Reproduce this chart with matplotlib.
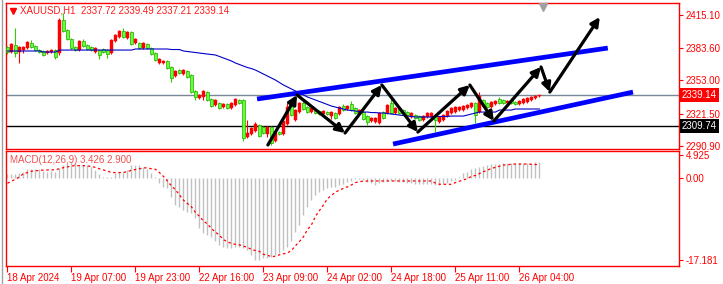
import matplotlib
matplotlib.use('Agg')
import matplotlib.pyplot as plt
import matplotlib.transforms as mtransforms
from matplotlib.lines import Line2D
import numpy as np

# ---------------- data ----------------
opens = [
2384.7, 2379.9, 2386.6, 2379.9, 2381.8, 2383.7, 2388.5, 2385.6, 2381.8, 2380.9,
2379.0, 2379.9, 2381.8, 2379.0, 2410.3, 2400.8, 2392.3, 2384.7, 2381.8, 2390.4,
2386.6, 2384.7, 2379.9, 2381.8, 2382.8, 2381.8, 2379.0, 2390.4, 2394.2, 2399.9,
2393.2, 2398.9, 2388.5, 2388.5, 2383.7, 2387.5, 2383.7, 2379.0, 2369.5, 2369.5,
2371.4, 2365.7, 2357.1, 2362.8, 2359.0, 2361.9, 2358.1, 2342.9, 2336.2, 2337.2,
2341.9, 2335.3, 2329.6, 2331.5, 2327.6, 2330.5, 2326.7, 2329.6, 2334.3, 2334.3,
2299.2, 2302.0, 2304.9, 2310.6, 2308.7, 2302.0, 2308.7, 2295.4, 2303.9, 2302.0,
2311.5, 2330.5, 2315.6, 2322.9, 2331.5, 2327.6, 2322.9, 2324.8, 2323.9, 2321.0,
2322.9, 2319.1, 2322.0, 2321.0, 2328.6, 2325.8, 2330.5, 2326.7, 2322.0, 2322.9,
2319.1, 2314.4, 2313.4, 2312.5, 2322.9, 2322.0, 2331.5, 2322.0, 2326.7, 2324.8,
2322.9, 2318.2, 2320.1, 2319.1, 2315.6, 2318.2, 2318.2, 2320.1, 2313.4, 2315.6,
2319.1, 2322.0, 2322.9, 2324.8, 2324.8, 2326.7, 2327.6, 2331.5, 2322.9, 2334.3,
2331.5, 2327.6, 2330.5, 2335.3, 2334.3, 2331.5, 2334.3, 2332.4, 2330.5, 2331.5,
2332.4, 2334.3, 2336.2, 2337.72]

closes = [
2379.9, 2387.5, 2379.0, 2384.7, 2384.7, 2389.4, 2384.7, 2381.8, 2379.9, 2377.1,
2380.9, 2381.8, 2375.2, 2410.3, 2399.9, 2392.3, 2383.7, 2381.8, 2390.4, 2385.6,
2382.8, 2381.8, 2383.7, 2377.1, 2379.9, 2378.0, 2391.3, 2396.1, 2399.9, 2394.2,
2398.9, 2387.5, 2392.3, 2383.7, 2388.5, 2383.7, 2378.0, 2372.3, 2373.3, 2371.4,
2364.7, 2355.2, 2361.9, 2360.0, 2362.8, 2356.2, 2341.9, 2337.2, 2339.1, 2342.9,
2334.3, 2328.6, 2334.3, 2326.7, 2330.5, 2326.7, 2331.5, 2335.3, 2331.5, 2298.2,
2303.0, 2307.7, 2311.5, 2300.1, 2303.0, 2308.7, 2293.5, 2303.0, 2302.0, 2314.4,
2327.6, 2320.1, 2324.8, 2331.5, 2325.8, 2322.9, 2326.7, 2322.0, 2321.0, 2323.9,
2321.0, 2322.9, 2317.2, 2327.6, 2324.8, 2328.6, 2324.8, 2322.0, 2324.8, 2316.3,
2313.4, 2317.2, 2317.2, 2322.0, 2317.2, 2329.6, 2322.0, 2326.7, 2322.0, 2322.0,
2320.1, 2322.0, 2317.2, 2315.6, 2319.1, 2322.0, 2322.0, 2315.6, 2318.2, 2320.1,
2323.9, 2326.7, 2327.6, 2327.6, 2328.6, 2329.6, 2331.5, 2320.1, 2338.1, 2328.6,
2327.6, 2332.4, 2333.4, 2331.5, 2331.5, 2333.4, 2331.5, 2330.5, 2333.4, 2335.3,
2336.2, 2337.2, 2338.1, 2339.14]

highs = [
2385.6, 2388.5, 2402.7, 2385.6, 2385.6, 2390.4, 2391.3, 2386.6, 2382.8, 2381.8,
2381.8, 2382.8, 2382.8, 2412.2, 2417.0, 2401.8, 2393.2, 2385.6, 2391.3, 2392.3,
2387.5, 2385.6, 2384.7, 2382.8, 2383.7, 2382.8, 2392.3, 2397.0, 2400.8, 2402.7,
2399.9, 2399.9, 2393.2, 2389.4, 2389.4, 2388.5, 2384.7, 2379.9, 2374.3, 2372.3,
2372.3, 2366.6, 2362.8, 2363.8, 2363.8, 2362.8, 2359.0, 2343.8, 2340.0, 2343.8,
2342.9, 2336.2, 2335.3, 2332.4, 2331.5, 2331.5, 2332.4, 2336.2, 2335.3, 2335.3,
2315.6, 2308.7, 2313.4, 2311.5, 2309.6, 2309.6, 2309.6, 2304.0, 2304.9, 2315.6,
2331.5, 2331.5, 2325.8, 2332.4, 2333.4, 2328.6, 2327.6, 2325.8, 2324.8, 2324.8,
2323.9, 2323.9, 2322.9, 2328.6, 2330.5, 2329.6, 2333.4, 2327.6, 2325.8, 2323.9,
2320.1, 2318.2, 2318.2, 2322.9, 2323.9, 2330.5, 2338.1, 2327.6, 2327.6, 2325.8,
2323.9, 2322.9, 2321.0, 2320.1, 2320.1, 2322.9, 2322.9, 2321.0, 2319.1, 2321.0,
2324.8, 2327.6, 2328.6, 2328.6, 2329.6, 2330.5, 2332.4, 2332.4, 2341.9, 2335.3,
2332.4, 2333.4, 2334.3, 2337.2, 2335.3, 2334.3, 2336.2, 2333.4, 2334.3, 2336.2,
2337.2, 2338.1, 2339.1, 2339.49]

lows = [
2378.5, 2379.0, 2375.2, 2369.5, 2379.0, 2382.8, 2384.0, 2381.0, 2379.0, 2376.2,
2378.0, 2379.0, 2373.3, 2377.1, 2398.9, 2391.3, 2382.8, 2380.9, 2380.9, 2384.7,
2381.8, 2380.9, 2379.0, 2373.3, 2379.0, 2374.3, 2378.0, 2389.4, 2393.2, 2393.2,
2392.3, 2386.6, 2387.5, 2382.8, 2382.8, 2382.8, 2377.1, 2371.4, 2368.5, 2368.5,
2363.8, 2351.4, 2356.2, 2359.0, 2358.1, 2355.2, 2341.0, 2334.3, 2335.3, 2334.0,
2333.4, 2327.6, 2328.6, 2325.8, 2326.7, 2325.8, 2325.8, 2328.6, 2330.5, 2295.4,
2298.2, 2301.1, 2303.9, 2299.2, 2302.0, 2299.2, 2291.6, 2294.4, 2301.1, 2301.1,
2310.6, 2319.1, 2314.4, 2322.0, 2324.8, 2322.0, 2322.0, 2321.0, 2320.1, 2320.1,
2320.1, 2316.3, 2316.3, 2320.1, 2323.9, 2324.8, 2323.9, 2321.0, 2321.0, 2315.6,
2310.6, 2313.4, 2312.5, 2311.5, 2316.3, 2321.0, 2321.0, 2321.0, 2321.0, 2321.0,
2319.1, 2317.2, 2316.3, 2314.4, 2314.4, 2317.2, 2317.2, 2303.9, 2312.5, 2314.4,
2318.2, 2321.0, 2322.0, 2323.9, 2323.9, 2325.8, 2326.7, 2312.5, 2322.0, 2327.6,
2326.7, 2326.7, 2329.6, 2330.5, 2330.5, 2330.5, 2330.5, 2329.6, 2329.6, 2330.5,
2331.5, 2333.4, 2335.3, 2337.21]

ma_values = [
2380.9, 2380.9, 2380.9, 2380.9, 2380.9, 2380.9, 2380.9, 2380.9, 2380.9, 2379.9,
2379.9, 2379.9, 2379.9, 2381.8, 2381.8, 2381.8, 2381.8, 2381.8, 2381.8, 2381.8,
2381.8, 2381.8, 2381.8, 2381.8, 2381.8, 2381.8, 2381.8, 2381.8, 2381.8, 2381.8,
2381.8, 2381.8, 2382.8, 2382.8, 2382.8, 2382.8, 2382.8, 2382.8, 2382.8, 2382.8,
2382.8, 2382.3, 2382.3, 2382.3, 2380.9, 2380.4, 2379.9, 2379.5, 2379.0, 2378.5,
2378.0, 2377.6, 2377.1, 2375.7, 2374.2, 2372.8, 2371.4, 2369.5, 2368.0, 2366.6,
2365.2, 2364.2, 2362.8, 2360.9, 2359.0, 2357.1, 2355.2, 2353.3, 2351.0, 2348.6,
2346.7, 2344.8, 2342.9, 2341.0, 2339.1, 2337.2, 2335.8, 2334.3, 2332.9, 2331.5,
2330.0, 2328.6, 2327.6, 2326.7, 2325.8, 2324.8, 2324.3, 2323.9, 2323.4, 2322.9,
2322.9, 2322.4, 2322.4, 2322.0, 2322.0, 2321.5, 2321.0, 2320.6, 2320.1, 2319.6,
2319.1, 2318.7, 2318.2, 2318.2, 2318.2, 2318.2, 2318.2, 2318.7, 2318.7, 2318.7,
2318.7, 2319.1, 2319.1, 2319.1, 2319.1, 2320.1, 2321.0, 2322.0, 2322.9, 2322.9,
2322.9, 2322.9, 2322.9, 2324.8, 2324.8, 2324.8, 2324.8, 2325.8, 2325.8, 2325.8,
2325.8, 2325.8, 2325.8, 2325.8]

macd_main = [
0.84, 0.84, 0.98, 1.12, 1.40, 1.89, 1.89, 1.89, 1.89, 1.54,
1.40, 1.54, 1.40, 2.11, 2.81, 3.16, 3.51, 3.16, 2.81, 2.81,
2.81, 2.46, 1.75, 0.84, 0.35, 0.35, 0.35, 1.05, 1.40, 1.40,
1.75, 2.81, 2.81, 2.81, 2.46, 1.96, 1.05, 0.35, -1.05, -1.75,
-2.10, -3.86, -5.60, -6.00, -6.70, -7.00, -7.40, -8.40, -10.50, -11.60,
-11.90, -12.30, -13.30, -14.00, -14.40, -14.70, -14.70, -14.40, -14.40, -14.70,
-15.10, -16.10, -17.18, -17.18, -16.80, -16.80, -16.50, -16.10, -15.80, -15.10,
-14.40, -13.30, -11.20, -9.80, -7.70, -6.00, -4.60, -3.50, -2.80, -2.50,
-2.10, -1.75, -1.75, -1.50, -1.20, -0.70, -0.56, -0.20, -0.20, -0.40,
-0.80, -1.00, -1.40, -1.00, -0.80, -0.60, -0.50, -0.60, -0.70, -0.80,
-1.00, -1.00, -1.10, -1.20, -1.30, -1.20, -1.20, -1.40, -1.40, -1.30,
-1.00, -0.60, -0.30, 0.35, 1.05, 1.40, 1.96, 2.25, 2.46, 2.67,
2.81, 2.95, 3.00, 3.08, 3.15, 3.15, 3.15, 3.15, 3.20, 3.20,
3.22, 3.29, 3.36, 3.426]

macd_signal = [
-1.05, -0.60, -0.20, 0.30, 1.00, 1.20, 1.50, 1.60, 1.65, 1.75,
1.75, 1.75, 1.85, 2.00, 2.25, 2.40, 2.60, 2.67, 2.67, 2.67,
2.60, 2.50, 2.30, 2.00, 1.75, 1.50, 1.25, 1.20, 1.20, 1.25,
1.40, 1.70, 1.85, 2.00, 2.20, 2.20, 2.00, 1.90, 1.20, 0.40,
-0.60, -1.60, -2.40, -3.50, -4.60, -5.30, -6.00, -7.20, -8.00, -9.00,
-9.60, -10.60, -11.30, -12.00, -12.90, -13.40, -13.70, -13.90, -14.00, -14.30,
-14.50, -15.00, -15.20, -15.40, -16.00, -16.20, -16.50, -16.40, -16.10, -15.90,
-15.70, -15.20, -14.20, -13.30, -12.30, -10.80, -9.80, -8.00, -6.80, -5.60,
-4.30, -3.60, -2.90, -2.50, -2.10, -1.80, -1.40, -0.90, -0.70, -0.60,
-0.56, -0.56, -0.56, -0.56, -0.56, -0.56, -0.56, -0.56, -0.56, -0.56,
-0.56, -0.56, -0.56, -0.56, -0.56, -0.56, -0.56, -1.00, -1.26, -1.26,
-1.26, -1.26, -0.90, -0.60, -0.35, -0.05, 0.40, 0.60, 1.00, 1.40,
1.70, 2.10, 2.30, 2.55, 2.80, 2.85, 2.95, 3.00, 3.00, 3.00,
3.00, 2.95, 2.90, 2.90]

time_labels = ["18 Apr 2024", "19 Apr 07:00", "19 Apr 23:00", "22 Apr 16:00",
               "23 Apr 09:00", "24 Apr 02:00", "24 Apr 18:00", "25 Apr 11:00",
               "26 Apr 04:00"]
time_label_bars = [0, 16, 32, 48, 64, 80, 96, 112, 128]

price_ticks = [2415.10, 2383.60, 2353.00, 2321.50, 2290.90]
macd_ticks = [4.925, 0.0, -17.181]
macd_tick_labels = ["4.925", "0.00", "-17.181"]

bid_price = 2339.14
level_price = 2309.74

# drawn objects (bar index, price)
zigzag_bars = [65.1, 72.4, 84.4, 93.6, 102.6, 115.6, 121.6, 133.4, 135.6, 148.1]
zigzag_prices = [2291.6, 2339.1, 2303.0, 2348.6, 2303.9, 2348.6, 2314.4, 2365.7, 2341.9, 2413.2]
upper_channel_bars = [62.4, 150.1]
upper_channel_prices = [2335.3, 2383.7]
lower_channel_bars = [96.4, 156.4]
lower_channel_prices = [2292.5, 2341.9]

title_text = "XAUUSD,H1  2337.72 2339.49 2337.21 2339.14"
macd_text = "MACD(12,26,9) 3.426 2.900"

# ---------------- figure ----------------
plt.rcParams['font.family'] = ['Liberation Sans', 'DejaVu Sans']
W, H = 723, 284
fig = plt.figure(figsize=(W / 100, H / 100), dpi=100)
fig.patch.set_facecolor('white')

def fx(px):
    return px / W

def fy(py):
    return 1 - py / H

ax = fig.add_axes([fx(5.5), fy(149), fx(679) - fx(5.5), fy(3) - fy(149)])
ax2 = fig.add_axes([fx(5.5), fy(266), fx(679) - fx(5.5), fy(151) - fy(266)])

RED = '#ff0000'
n = len(closes)
assert len(opens) == n and len(highs) == n and len(lows) == n
x = np.arange(n)
o = np.array(opens); c = np.array(closes); h = np.array(highs); l = np.array(lows)
up = c >= o

# horizontal levels
ax.axhline(bid_price, color='#778899', lw=1.0, zorder=1)
ax.axhline(level_price, color='black', lw=1.0, zorder=1)

# candles
ax.vlines(x[up], l[up], h[up], color=RED, lw=0.8, zorder=2)
ax.vlines(x[~up], l[~up], h[~up], color='#33cc00', lw=0.8, zorder=2)
body = c - o
body = np.where(np.abs(body) < 0.9, np.where(body >= 0, 0.9, -0.9), body)
ax.bar(x[up], body[up], bottom=o[up], width=0.75, color=RED,
       edgecolor=RED, lw=0.3, zorder=3)
ax.bar(x[~up], body[~up], bottom=o[~up], width=0.75, color='#66ff33',
       edgecolor='#22aa00', lw=0.5, zorder=3)

# moving average
ax.plot(x, ma_values, color='#0000c8', lw=0.8, zorder=4)

# channel lines
ax.plot(upper_channel_bars, upper_channel_prices, color='#0000ff', lw=3.4,
        solid_capstyle='butt', zorder=5)
ax.plot(lower_channel_bars, lower_channel_prices, color='#0000ff', lw=3.4,
        solid_capstyle='butt', zorder=5)

# zigzag arrows
for i in range(len(zigzag_bars) - 1):
    ax.annotate('', xy=(zigzag_bars[i + 1], zigzag_prices[i + 1]),
                xytext=(zigzag_bars[i], zigzag_prices[i]),
                arrowprops=dict(arrowstyle='-|>', color='black', lw=2.3,
                                mutation_scale=13, shrinkA=0, shrinkB=0),
                zorder=6)

ax.set_xlim(-0.5, 167.9)
ax.set_ylim(2287.8, 2426.5)
ax.set_xticks([])
ax.yaxis.tick_right()
ax.set_yticks(price_ticks)
ax.set_yticklabels([f"{v:.2f}" for v in price_ticks])
ax.tick_params(axis='y', direction='out', length=3, width=0.8, color=RED,
               labelcolor=RED, labelsize=7, pad=2)
for s in ax.spines.values():
    s.set_color(RED)
    s.set_linewidth(1.0)

# current price / level boxes
trans = mtransforms.blended_transform_factory(ax.transAxes, ax.transData)
ax.text(1.004, bid_price, f"{bid_price:.2f}", transform=trans, color='white',
        fontsize=7, va='center', ha='left', zorder=10, clip_on=False,
        bbox=dict(boxstyle='square,pad=0.22', fc=RED, ec='none'))
ax.text(1.004, level_price, f"{level_price:.2f}", transform=trans, color='white',
        fontsize=7, va='center', ha='left', zorder=10, clip_on=False,
        bbox=dict(boxstyle='square,pad=0.22', fc='black', ec='none'))

# shift marker
ax.plot([133.9], [0.975], marker='v', ms=6, color='#a0a0a0',
        transform=mtransforms.blended_transform_factory(ax.transData, ax.transAxes),
        clip_on=False, zorder=10)

# title
fig.add_artist(Line2D([fx(12.5)], [fy(10.5)], marker='v', ms=5, color=RED, lw=0))
fig.text(fx(20), fy(10.5), title_text, color='#ff1a1a', fontsize=7, va='center', ha='left')

# MACD panel
ax2.vlines(x, 0, macd_main, color='#c0c0c0', lw=1.0, zorder=2)
ax2.plot(x, macd_signal, color=RED, lw=0.9, ls=(0, (2, 2.2)), zorder=3)
ax2.set_xlim(-0.5, 167.9)
ax2.set_ylim(-18.46, 5.75)
ax2.yaxis.tick_right()
ax2.set_yticks(macd_ticks)
ax2.set_yticklabels(macd_tick_labels)
ax2.tick_params(axis='y', direction='out', length=3, width=0.8, color=RED,
                labelcolor=RED, labelsize=7, pad=2)
ax2.set_xticks(time_label_bars)
ax2.set_xticklabels(time_labels)
ax2.tick_params(axis='x', direction='out', length=4, width=0.8, color=RED,
                labelcolor=RED, labelsize=7, pad=1)
for lab in ax2.get_xticklabels():
    lab.set_horizontalalignment('left')
for s in ax2.spines.values():
    s.set_color(RED)
    s.set_linewidth(1.0)
fig.text(fx(10), fy(160), macd_text, color='#f05050', fontsize=7, va='center', ha='left')

# window border
fig.add_artist(Line2D([fx(1.5), fx(1.5)], [0, 1], color='#a0a0a0', lw=1.0))

fig.savefig('out.png', dpi=100, facecolor='white')
